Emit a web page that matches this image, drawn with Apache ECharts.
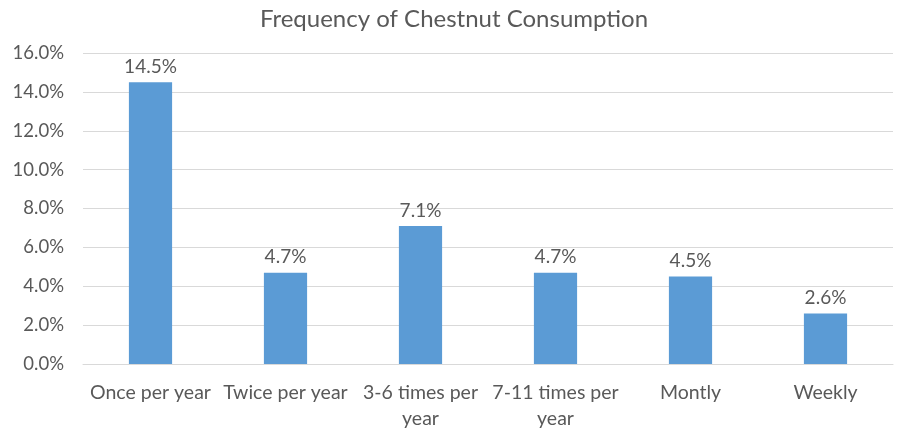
<!DOCTYPE html>
<html>
<head>
<meta charset="utf-8">
<script src="https://cdn.jsdelivr.net/npm/echarts@6/dist/echarts.min.js"></script>
<style>
  html, body { margin: 0; padding: 0; background: #ffffff; }
  #chart { width: 908px; height: 433px; }
</style>
</head>
<body>
<div id="chart"></div>
<script>
// Consumption frequency categories and share of respondents (%)
const categories = ['Once per year', 'Twice per year', '3-6 times per\nyear', '7-11 times per\nyear', 'Montly', 'Weekly'];
const shares = [14.5, 4.7, 7.1, 4.7, 4.5, 2.6];
const yTicks = { min: 0, max: 16, interval: 2 };

const textColor = '#595959';
const fontFamily = 'Lato, Carlito, Calibri, sans-serif';

const chart = echarts.init(document.getElementById('chart'));
chart.setOption({
  backgroundColor: '#ffffff',
  animation: false,
  title: {
    text: 'Frequency of Chestnut Consumption',
    left: 'center',
    top: 2,
    textStyle: { color: textColor, fontSize: 24, fontWeight: 'normal', fontFamily: fontFamily }
  },
  grid: { left: 83, right: 15, top: 53, bottom: 69, containLabel: false },
  xAxis: {
    type: 'category',
    data: categories,
    axisLine: { lineStyle: { color: '#d9d9d9', width: 1 } },
    axisTick: { show: false },
    axisLabel: {
      color: textColor, fontSize: 19.5, fontFamily: fontFamily,
      margin: 16, lineHeight: 26, interval: 0
    }
  },
  yAxis: {
    type: 'value',
    min: yTicks.min,
    max: yTicks.max,
    interval: yTicks.interval,
    axisLine: { show: false },
    axisTick: { show: false },
    splitLine: { lineStyle: { color: '#d9d9d9', width: 1 } },
    axisLabel: {
      color: textColor, fontSize: 18.5, fontFamily: fontFamily, margin: 19,
      formatter: v => v.toFixed(1) + '%'
    }
  },
  series: [{
    type: 'bar',
    data: shares,
    barWidth: '32%',
    itemStyle: { color: '#5b9bd5' },
    label: {
      show: true,
      position: 'top',
      distance: 6,
      color: textColor,
      fontSize: 19,
      fontFamily: fontFamily,
      formatter: p => p.value.toFixed(1) + '%'
    }
  }]
});
</script>
</body>
</html>
